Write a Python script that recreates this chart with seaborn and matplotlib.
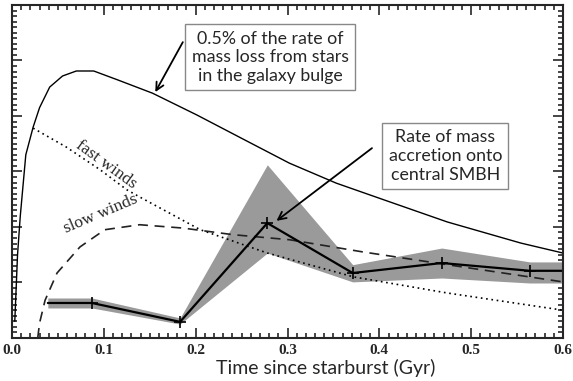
import matplotlib
matplotlib.use("Agg")
import matplotlib.pyplot as plt
import seaborn as sns
from matplotlib.ticker import MultipleLocator, NullFormatter

# 0.5% of the rate of mass loss from bulge stars (solid)
bulge_t = [0.003, 0.006, 0.009, 0.012, 0.015, 0.023, 0.030, 0.041, 0.055, 0.070,
           0.089, 0.115, 0.153, 0.201, 0.252, 0.302, 0.353, 0.403, 0.474, 0.554, 0.600]
bulge_rate = [0.3, 1.5, 2.2, 2.75, 3.3, 3.8, 4.15, 4.52, 4.72, 4.81,
              4.81, 4.65, 4.41, 4.02, 3.58, 3.15, 2.79, 2.50, 2.09, 1.71, 1.53]

# fast winds (dotted)
fast_t = [0.023, 0.059, 0.096, 0.125, 0.139, 0.205, 0.278, 0.302, 0.372, 0.474, 0.600]
fast_rate = [3.78, 3.44, 3.03, 2.67, 2.54, 1.95, 1.53, 1.42, 1.10, 0.81, 0.50]

# slow winds (dashed)
slow_t = [0.028, 0.030, 0.036, 0.049, 0.074, 0.101, 0.139, 0.186, 0.241, 0.302, 0.382, 0.474, 0.600]
slow_rate = [0.0, 0.27, 0.68, 1.17, 1.64, 1.95, 2.04, 1.98, 1.86, 1.77, 1.55, 1.32, 1.01]

# accretion onto central SMBH with uncertainty band
acc_t = [0.039, 0.087, 0.183, 0.278, 0.371, 0.468, 0.564, 0.600]
acc_rate = [0.63, 0.63, 0.29, 2.07, 1.17, 1.35, 1.21, 1.21]
acc_low = [0.54, 0.54, 0.25, 1.53, 1.01, 1.08, 0.99, 0.99]
acc_high = [0.72, 0.72, 0.36, 3.12, 1.32, 1.62, 1.37, 1.37]
marker_t = acc_t[1:-1]
marker_rate = acc_rate[1:-1]

sns.set_style("ticks")
plt.rcParams["font.family"] = ["Liberation Serif", "DejaVu Serif"]

fig = plt.figure(figsize=(5.73, 3.81), dpi=100)
ax = fig.add_axes([0.021, 0.113, 0.9615, 0.874])

ax.fill_between(acc_t, acc_low, acc_high, color="#9a9a9a", lw=0)
sns.lineplot(x=bulge_t, y=bulge_rate, ax=ax, color="black", lw=1.0, sort=False)
sns.lineplot(x=fast_t, y=fast_rate, ax=ax, color="black", lw=1.2, sort=False)
ax.lines[-1].set_linestyle((0, (1, 2.2)))
sns.lineplot(x=slow_t, y=slow_rate, ax=ax, color="#222222", lw=1.2, sort=False)
ax.lines[-1].set_linestyle((0, (6, 4)))
sns.lineplot(x=acc_t, y=acc_rate, ax=ax, color="black", lw=1.6, sort=False)
ax.plot(marker_t, marker_rate, ls="none", marker="+", ms=8, mew=1.2, color="black")

ax.set_xlim(0, 0.6)
ax.set_ylim(0, 6)
ax.xaxis.set_major_locator(MultipleLocator(0.1))
ax.xaxis.set_minor_locator(MultipleLocator(0.01))
ax.yaxis.set_major_locator(MultipleLocator(1))
ax.yaxis.set_minor_locator(MultipleLocator(0.1))
ax.yaxis.set_major_formatter(NullFormatter())
ax.tick_params(which="both", direction="in", top=True, right=True, width=1.2)
ax.tick_params(which="major", length=7, labelsize=11, pad=4)
ax.tick_params(which="minor", length=3.5)
for lab in ax.get_xticklabels():
    lab.set_fontweight("bold")
for sp in ax.spines.values():
    sp.set_linewidth(1.5)

ax.set_xlabel("Time since starburst (Gyr)", family="Lato", fontsize=14)
ax.xaxis.set_label_coords(0.57, -0.062)
ax.set_ylabel("")

ax.text(0.103, 3.12, "fast winds", rotation=-36, fontsize=12.5, ha="center", va="center")
ax.text(0.097, 2.24, "slow winds", rotation=23, fontsize=12.5, ha="center", va="center")

box = dict(boxstyle="square,pad=0.35", fc="white", ec="#888888", lw=1)
ax.text(0.281, 5.06, "0.5% of the rate of\nmass loss from stars\nin the galaxy bulge",
        family="Lato", fontsize=12.8, ha="center", va="center", bbox=box, linespacing=1.2)
ax.text(0.472, 3.28, "Rate of mass\naccretion onto\ncentral SMBH",
        family="Lato", fontsize=12.8, ha="center", va="center", bbox=box, linespacing=1.2)

arrow = dict(arrowstyle="->", color="black", lw=1.3, mutation_scale=14, shrinkA=0, shrinkB=0)
ax.annotate("", xy=(0.156, 4.43), xytext=(0.186, 5.33), arrowprops=arrow)
ax.annotate("", xy=(0.288, 2.11), xytext=(0.392, 3.42), arrowprops=arrow)

plt.savefig("out.png", dpi=100)
plt.close()
